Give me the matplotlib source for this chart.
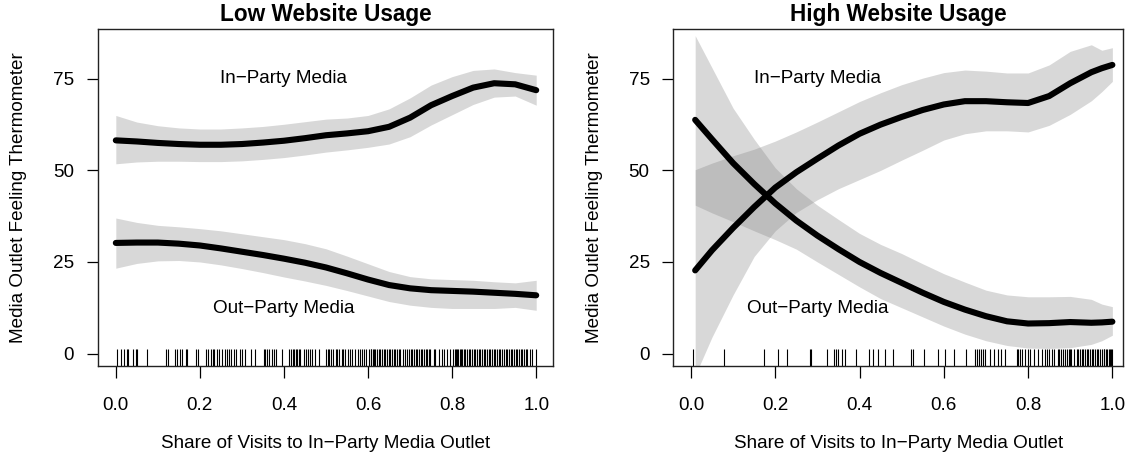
import numpy as np
import matplotlib
matplotlib.use('Agg')
import matplotlib.pyplot as plt
import matplotlib.transforms as mtransforms

plt.rcParams['font.family'] = ['Liberation Sans', 'DejaVu Sans']

# Low website usage panel: fitted curves and bands
low_x = [0.0, 0.05, 0.1, 0.15, 0.2, 0.25, 0.3, 0.35, 0.4, 0.45, 0.5,
         0.55, 0.6, 0.65, 0.7, 0.75, 0.8, 0.85, 0.9, 0.95, 1.0]
low_in = [58.2, 57.9, 57.5, 57.2, 57.0, 57.0, 57.2, 57.6, 58.1, 58.8, 59.6,
          60.1, 60.7, 61.9, 64.4, 67.8, 70.3, 72.6, 73.8, 73.5, 71.9]
low_in_hi = [65.0, 63.2, 62.2, 61.6, 61.3, 61.3, 61.6, 62.0, 62.6, 63.3, 64.0,
             64.3, 65.0, 66.8, 69.8, 73.3, 75.6, 77.3, 77.7, 76.7, 76.0]
low_in_lo = [51.8, 52.3, 52.5, 52.5, 52.4, 52.4, 52.6, 53.0, 53.5, 54.2, 55.0,
             55.6, 56.3, 57.2, 59.2, 62.4, 65.2, 68.0, 70.0, 70.3, 67.8]
low_out = [30.2, 30.3, 30.3, 30.0, 29.5, 28.7, 27.8, 26.9, 25.9, 24.8, 23.5,
           21.9, 20.2, 18.7, 17.8, 17.3, 17.1, 16.9, 16.6, 16.3, 15.9]
low_out_hi = [37.0, 35.8, 35.0, 34.6, 34.1, 33.5, 32.7, 31.9, 31.1, 30.0, 28.6,
              26.6, 24.5, 22.4, 21.0, 20.4, 20.2, 20.0, 19.6, 19.3, 20.0]
low_out_lo = [23.3, 24.6, 25.3, 25.4, 25.0, 24.2, 23.2, 22.1, 20.9, 19.8, 18.6,
              17.2, 15.7, 14.2, 13.2, 12.6, 12.3, 12.3, 12.3, 12.6, 11.8]

# High website usage panel
high_x = [0.01, 0.05, 0.1, 0.15, 0.2, 0.25, 0.3, 0.35, 0.4, 0.45, 0.5,
          0.55, 0.6, 0.65, 0.7, 0.75, 0.8, 0.85, 0.9, 0.95, 0.975, 1.0]
high_in = [22.7, 28.2, 34.3, 40.0, 45.3, 49.5, 53.2, 56.8, 60.0, 62.5, 64.6,
           66.5, 68.0, 68.9, 68.9, 68.6, 68.4, 70.3, 73.8, 76.8, 77.9, 78.8]
high_in_hi = [50.2, 52.0, 54.0, 55.8, 58.0, 60.5, 63.2, 66.0, 68.8, 71.2, 73.4,
              75.2, 76.7, 77.4, 77.1, 76.6, 76.6, 78.8, 82.5, 84.3, 82.8, 83.5]
high_in_lo = [-6.0, 4.5, 16.0, 26.5, 33.5, 38.5, 42.0, 45.0, 47.5, 50.0, 52.8,
              55.5, 58.3, 60.0, 60.8, 60.8, 60.5, 62.3, 65.3, 69.0, 71.5, 74.3]
high_out = [63.8, 58.5, 52.0, 46.3, 41.0, 36.3, 32.2, 28.5, 25.0, 22.0, 19.3,
            16.6, 14.1, 12.0, 10.2, 8.8, 8.2, 8.3, 8.6, 8.4, 8.5, 8.7]
high_out_hi = [86.8, 78.0, 67.0, 58.5, 50.7, 45.0, 40.5, 36.6, 32.8, 29.8, 27.3,
               24.5, 21.8, 19.5, 17.3, 16.0, 15.5, 15.5, 15.6, 14.8, 13.5, 12.8]
high_out_lo = [40.5, 38.4, 36.0, 33.5, 31.1, 28.5, 25.0, 21.6, 18.2, 15.0, 12.5,
               10.0, 7.5, 5.3, 3.5, 2.2, 1.5, 1.4, 1.6, 2.5, 3.5, 5.0]

# observed shares (rug)
low_rug = [0.002, 0.013, 0.020, 0.027, 0.030, 0.040, 0.048, 0.051, 0.073, 0.120,
           0.124, 0.141, 0.146, 0.152, 0.157, 0.166, 0.170, 0.190, 0.195, 0.214,
           0.219, 0.226, 0.230, 0.234, 0.241, 0.245, 0.253, 0.260, 0.264, 0.269,
           0.275, 0.280, 0.285, 0.295, 0.299, 0.307, 0.321, 0.332, 0.353, 0.356,
           0.360, 0.364, 0.372, 0.376, 0.382, 0.396, 0.413, 0.417, 0.421, 0.425,
           0.428, 0.432, 0.435, 0.439, 0.448, 0.452, 0.457, 0.461, 0.467, 0.473,
           0.483, 0.499, 0.504, 0.508, 0.512, 0.516, 0.523, 0.527, 0.530, 0.537,
           0.540, 0.546, 0.553, 0.558, 0.562, 0.568, 0.576, 0.582, 0.586, 0.590,
           0.595, 0.602, 0.606, 0.608, 0.611, 0.614, 0.617, 0.621, 0.625, 0.629,
           0.633, 0.637, 0.641, 0.645, 0.649, 0.653, 0.657, 0.661, 0.665, 0.669,
           0.673, 0.677, 0.682, 0.687, 0.692, 0.697, 0.701, 0.705, 0.709, 0.713,
           0.717, 0.721, 0.725, 0.729, 0.733, 0.737, 0.741, 0.744, 0.748, 0.756,
           0.760, 0.768, 0.776, 0.780, 0.788, 0.796, 0.802, 0.806, 0.809, 0.812,
           0.815, 0.818, 0.821, 0.824, 0.828, 0.831, 0.835, 0.839, 0.843, 0.847,
           0.851, 0.855, 0.859, 0.863, 0.867, 0.871, 0.875, 0.879, 0.883, 0.887,
           0.891, 0.895, 0.899, 0.903, 0.907, 0.911, 0.915, 0.919, 0.923, 0.927,
           0.931, 0.935, 0.939, 0.943, 0.947, 0.951, 0.955, 0.959, 0.963, 0.967,
           0.971, 0.975, 0.978, 0.986, 0.991, 1.0]
high_rug = [0.006, 0.079, 0.174, 0.206, 0.229, 0.282, 0.285, 0.324, 0.340, 0.344,
            0.348, 0.358, 0.366, 0.391, 0.422, 0.433, 0.443, 0.461, 0.479, 0.522,
            0.526, 0.554, 0.587, 0.603, 0.625, 0.653, 0.674, 0.679, 0.684, 0.688,
            0.694, 0.698, 0.710, 0.718, 0.728, 0.736, 0.745, 0.773, 0.777, 0.781,
            0.786, 0.793, 0.799, 0.805, 0.813, 0.824, 0.832, 0.839, 0.844, 0.850,
            0.856, 0.862, 0.870, 0.873, 0.878, 0.882, 0.888, 0.892, 0.896, 0.900,
            0.903, 0.910, 0.915, 0.919, 0.923, 0.927, 0.931, 0.935, 0.939, 0.943,
            0.947, 0.951, 0.955, 0.959, 0.963, 0.967, 0.971, 0.975, 0.979, 0.981,
            0.984, 0.987, 0.991, 0.994, 0.997, 1.0]

xticks = [0.0, 0.2, 0.4, 0.6, 0.8, 1.0]
yticks = [0, 25, 50, 75]

fig = plt.figure(figsize=(11.3, 4.62), dpi=100)
ax1 = fig.add_axes([0.0865, 0.2078, 0.4029, 0.7294])
ax2 = fig.add_axes([0.5958, 0.2078, 0.3983, 0.7294])

band = (0.5, 0.5, 0.5)
fs = 13.6

def panel(ax, title, x, yin, yin_hi, yin_lo, yout, yout_hi, yout_lo, rug, xlim, tx):
	ax.fill_between(x, yin_lo, yin_hi, color=band, alpha=0.3, lw=0)
	ax.fill_between(x, yout_lo, yout_hi, color=band, alpha=0.3, lw=0)
	ax.plot(x, yin, color='black', lw=4.4, solid_capstyle='round', solid_joinstyle='round')
	ax.plot(x, yout, color='black', lw=4.4, solid_capstyle='round', solid_joinstyle='round')
	# rug of observed shares along the bottom
	trans = mtransforms.blended_transform_factory(ax.transData, ax.transAxes)
	ax.vlines(rug, 0, 0.05, transform=trans, color='black', lw=0.8)
	ax.text(tx, 75, 'In\u2212Party Media', ha='center', va='center', fontsize=fs)
	ax.text(tx, 12.3, 'Out\u2212Party Media', ha='center', va='center', fontsize=fs)
	ax.set_xlim(*xlim)
	ax.set_ylim(-3.4, 88.6)
	ax.set_xticks(xticks)
	ax.set_xticklabels(['%.1f' % v for v in xticks])
	ax.set_yticks(yticks)
	ax.tick_params(axis='x', length=8.6, width=0.9, pad=13.5, labelsize=fs)
	ax.tick_params(axis='y', length=8, width=0.9, pad=9, labelsize=fs)
	for s in ax.spines.values():
		s.set_linewidth(1.0)
		s.set_color('#222222')
	ax.set_title(title, fontsize=16.3, fontweight='bold', pad=6)
	ax.set_xlabel('Share of Visits to In\u2212Party Media Outlet', fontsize=fs)
	ax.set_ylabel('Media Outlet Feeling Thermometer', fontsize=fs)
	ax.xaxis.set_label_coords(0.5, -0.205)
	ax.yaxis.set_label_coords(-0.155, 0.5)

panel(ax1, 'Low Website Usage', low_x, low_in, low_in_hi, low_in_lo,
      low_out, low_out_hi, low_out_lo, low_rug, (-0.043, 1.040), 0.40)
panel(ax2, 'High Website Usage', high_x, high_in, high_in_hi, high_in_lo,
      high_out, high_out_hi, high_out_lo, high_rug, (-0.042, 1.026), 0.30)

plt.savefig('out.png', dpi=100)
